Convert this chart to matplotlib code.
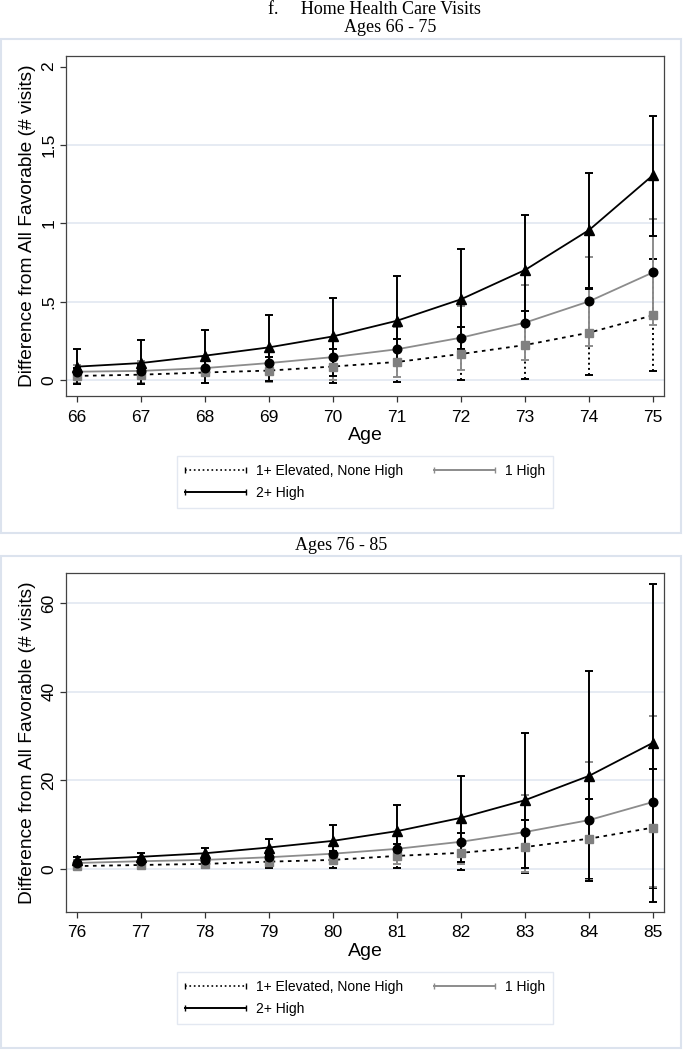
import numpy as np
import matplotlib
matplotlib.use("Agg")
import matplotlib.pyplot as plt
from matplotlib.lines import Line2D
from matplotlib.patches import Rectangle
from matplotlib.legend_handler import HandlerLine2D

# ---------------- data ----------------
ages1 = [66, 67, 68, 69, 70, 71, 72, 73, 74, 75]
elev1 = [0.028, 0.036, 0.05, 0.062, 0.088, 0.117, 0.168, 0.225, 0.304, 0.415]
elev1_lo = [-0.023, -0.023, -0.02, -0.01, -0.015, -0.009, 0.0, 0.006, 0.034, 0.06]
elev1_hi = [0.08, 0.10, 0.12, 0.15, 0.198, 0.262, 0.342, 0.444, 0.59, 0.776]
one1 = [0.055, 0.06, 0.078, 0.11, 0.148, 0.198, 0.272, 0.368, 0.504, 0.689]
one1_lo = [-0.02, -0.02, -0.015, -0.01, 0.0, 0.023, 0.066, 0.13, 0.221, 0.353]
one1_hi = [0.10, 0.12, 0.15, 0.19, 0.25, 0.34, 0.476, 0.61, 0.787, 1.027]
two1 = [0.087, 0.11, 0.157, 0.21, 0.28, 0.38, 0.517, 0.704, 0.959, 1.31]
two1_lo = [-0.023, -0.023, -0.02, -0.005, 0.03, 0.10, 0.20, 0.36, 0.585, 0.923]
two1_hi = [0.198, 0.255, 0.32, 0.415, 0.528, 0.666, 0.838, 1.057, 1.325, 1.687]
yticks1 = [0, 0.5, 1, 1.5, 2]
yticklabels1 = ["0", ".5", "1", "1.5", "2"]
grid1 = [0, 0.5, 1, 1.5]

ages2 = [76, 77, 78, 79, 80, 81, 82, 83, 84, 85]
elev2 = [0.6, 0.85, 1.1, 1.6, 2.0, 2.9, 3.6, 4.9, 6.8, 9.3]
elev2_lo = [0.1, 0.2, 0.2, 0.2, 0.2, 0.1, -0.3, -1.0, -2.4, -4.4]
elev2_hi = [1.2, 1.6, 2.2, 3.0, 4.0, 5.7, 8.0, 11.1, 15.7, 22.5]
one2 = [1.3, 1.7, 2.0, 2.6, 3.4, 4.5, 6.1, 8.3, 11.0, 15.1]
one2_lo = [0.7, 0.9, 1.0, 1.1, 1.1, 1.0, 1.0, -0.7, -2.6, -4.1]
one2_hi = [1.9, 2.5, 3.1, 4.1, 5.3, 7.3, 10.3, 16.6, 24.0, 34.6]
two2 = [2.0, 2.7, 3.5, 4.8, 6.3, 8.5, 11.5, 15.5, 21.0, 28.5]
two2_lo = [1.3, 1.8, 2.2, 2.5, 2.5, 2.3, 1.6, 0.2, -2.8, -7.5]
two2_hi = [2.6, 3.5, 4.6, 6.8, 9.9, 14.4, 21.0, 30.7, 44.7, 64.4]
yticks2 = [0, 20, 40, 60]
yticklabels2 = ["0", "20", "40", "60"]
grid2 = [0, 20, 40, 60]

series_labels = ["1+ Elevated, None High", "1 High", "2+ High"]
main_title = "f.     Home Health Care Visits"
panel_titles = ["Ages 66 - 75", "Ages 76 - 85"]
xlabel = "Age"
ylabel = "Difference from All Favorable (# visits)"

# ---------------- style ----------------
W, H = 683, 1050
fig = plt.figure(figsize=(W / 100, H / 100), dpi=100)
SANS = ["Liberation Sans", "DejaVu Sans"]
SERIF = ["Liberation Serif", "DejaVu Serif"]
GRAY = "#808080"
LGRAY = "#8c8c8c"
GRID = "#dfe5f0"
BOX = "#dce3ee"


def fx(px):
    return px / W


def fy(py):
    return 1 - py / H


def draw_panel(ax, ages, series, yticks, yticklabels, grid, ylim):
    for g in grid:
        ax.axhline(g, color=GRID, lw=1.1, zorder=0)
    styles = [
        dict(color="black", ls=":"),
        dict(color=LGRAY, ls="-"),
        dict(color="black", ls="-"),
    ]
    for (y, lo, hi), st in zip(series, styles):
        y = np.array(y); lo = np.array(lo); hi = np.array(hi)
        eb = ax.errorbar(ages, y, yerr=[y - lo, hi - y], fmt="none",
                         ecolor=st["color"], elinewidth=1.4, capsize=3.0,
                         capthick=1.4, zorder=2)
        eb[2][0].set_linestyle(st["ls"])
    (e, _, _), (o, _, _), (t, _, _) = series
    ax.plot(ages, e, ls=(0, (2, 2.5)), color="black", lw=1.3,
            marker="s", ms=6.2, mfc=GRAY, mec=GRAY, zorder=3)
    ax.plot(ages, o, ls="-", color=LGRAY, lw=1.3,
            marker="o", ms=6.2, mfc="black", mec="black", zorder=4)
    ax.plot(ages, t, ls="-", color="black", lw=1.3,
            marker="^", ms=7.5, mfc="black", mec="black", zorder=5)

    ax.set_xlim(ages[0] - 0.167, ages[-1] + 0.167)
    ax.set_ylim(*ylim)
    ax.set_xticks(ages)
    ax.set_xticklabels([str(a) for a in ages], fontsize=12.5, family=SANS)
    ax.set_yticks(yticks)
    ax.set_yticklabels(yticklabels, fontsize=12.5, family=SANS,
                       rotation=90, va="center")
    ax.tick_params(axis="both", direction="out", length=4.3, width=0.9,
                   color="#333333")
    ax.tick_params(axis="x", pad=5.5)
    ax.tick_params(axis="y", pad=2.5)
    for s in ax.spines.values():
        s.set_color("#444444")
        s.set_linewidth(0.9)
    ax.set_xlabel(xlabel, fontsize=14, family=SANS, labelpad=2)
    ax.set_ylabel(ylabel, fontsize=13.8, family=SANS, labelpad=4)


def legend_for(ax_center_px, top_px):
    handles = [
        Line2D([], [], color="black", ls=":", lw=1.2, marker="|", ms=5, mew=1.0),
        Line2D([], [], color=LGRAY, ls="-", lw=1.4, marker="|", ms=5, mew=1.0),
        Line2D([], [], color="black", ls="-", lw=1.4, marker="|", ms=5, mew=1.0),
    ]
    order = [0, 2, 1]
    leg = fig.legend([handles[i] for i in order], [series_labels[i] for i in order],
                     ncol=2, loc="upper center",
                     bbox_to_anchor=(fx(ax_center_px), fy(top_px)),
                     prop={"family": SANS, "size": 10},
                     handlelength=4.4, handletextpad=0.7, columnspacing=2.2,
                     labelspacing=0.55, borderpad=0.6, borderaxespad=0,
                     frameon=True, fancybox=False,
                     handler_map={Line2D: HandlerLine2D(numpoints=2, marker_pad=0)})
    fr = leg.get_frame()
    fr.set_edgecolor(BOX)
    fr.set_linewidth(1.0)
    return leg


for (y0, y1) in [(39, 533), (556, 1048)]:
    fig.patches.append(Rectangle((fx(1), fy(y1)), fx(680), (y1 - y0) / H,
                                 transform=fig.transFigure, fill=False,
                                 edgecolor=BOX, lw=1.5, zorder=0))

ax1 = fig.add_axes([fx(66), fy(396), fx(664 - 66), (396 - 55.7) / H])
draw_panel(ax1, ages1,
           [(elev1, elev1_lo, elev1_hi), (one1, one1_lo, one1_hi), (two1, two1_lo, two1_hi)],
           yticks1, yticklabels1, grid1, (-0.1, 2.07))

ax2 = fig.add_axes([fx(66), fy(911.7), fx(664 - 66), (911.7 - 573) / H])
draw_panel(ax2, ages2,
           [(elev2, elev2_lo, elev2_hi), (one2, one2_lo, one2_hi), (two2, two2_lo, two2_hi)],
           yticks2, yticklabels2, grid2, (-9.7, 66.8))

legend_for(365, 456)
legend_for(365, 972)

fig.text(fx(374.5), fy(9), main_title, ha="center", va="center",
         fontsize=13, family=SERIF)
fig.text(fx(390), fy(27.5), panel_titles[0], ha="center", va="center",
         fontsize=13, family=SERIF)
fig.text(fx(341), fy(545), panel_titles[1], ha="center", va="center",
         fontsize=13, family=SERIF)

fig.savefig("out.png", dpi=100)
